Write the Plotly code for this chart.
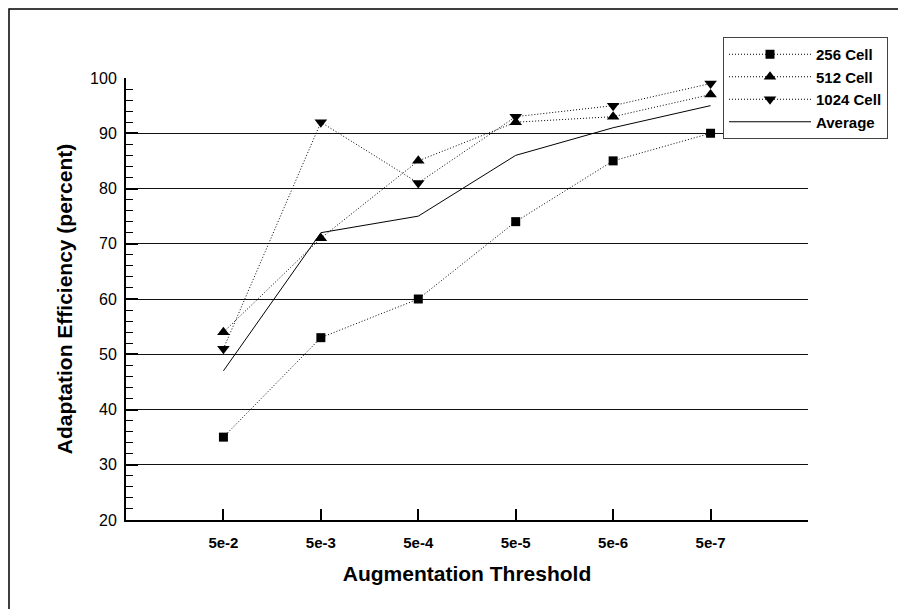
import plotly.graph_objects as go

thresholds = ["5e-2", "5e-3", "5e-4", "5e-5", "5e-6", "5e-7"]
cell_256 = [35, 53, 60, 74, 85, 90]
cell_512 = [54, 71, 85, 92, 93, 97]
cell_1024 = [51, 92, 81, 93, 95, 99]
average = [47, 72, 75, 86, 91, 95]

W, H = 906, 609
L, R, T, B = 118, 106, 70, 97
pw, ph = W - L - R, H - T - B

def px_x(x):
    return (x - L) / pw

def px_y(y):
    return (H - B - y) / ph

fig = go.Figure()
dot = dict(color="black", width=1, dash="1px,2px")
fig.add_trace(go.Scatter(x=thresholds, y=cell_256, name="<b>256 Cell</b>", mode="lines+markers",
                         line=dot, marker=dict(symbol="square", size=9, color="black")))
fig.add_trace(go.Scatter(x=thresholds, y=cell_512, name="<b>512 Cell</b>", mode="lines+markers",
                         line=dot, marker=dict(symbol="triangle-up", size=11, color="black")))
fig.add_trace(go.Scatter(x=thresholds, y=cell_1024, name="<b>1024 Cell</b>", mode="lines+markers",
                         line=dot, marker=dict(symbol="triangle-down", size=11, color="black")))
fig.add_trace(go.Scatter(x=thresholds, y=average, name="<b>Average</b>", mode="lines",
                         line=dict(color="black", width=1)))

font = "Arial, Liberation Sans, sans-serif"
fig.update_layout(
    width=W, height=H,
    margin=dict(l=L, r=R, t=T, b=B),
    plot_bgcolor="white", paper_bgcolor="white",
    font=dict(family=font, color="black"),
    showlegend=True,
    legend=dict(x=px_x(715), y=px_y(29), xanchor="left", yanchor="top",
                bgcolor="white", bordercolor="#444", borderwidth=1,
                font=dict(size=15, family=font, color="black"),
                itemwidth=82, tracegroupgap=0,
                traceorder="normal"),
    xaxis=dict(type="category", range=[-1, 6], showgrid=False, zeroline=False,
               showline=True, linecolor="black", linewidth=2,
               ticks="inside", ticklen=11, tickwidth=2, tickcolor="black",
               ticklabelstandoff=8,
               tickfont=dict(size=15, family=font, color="black"),
               tickmode="array", tickvals=thresholds,
               ticktext=["<b>%s</b>" % t for t in thresholds],
               title=dict(text="<b>Augmentation Threshold</b>", standoff=16,
                          font=dict(size=21, family=font, color="black"))),
    yaxis=dict(range=[20, 100], dtick=10, showgrid=True, gridcolor="#111", gridwidth=1,
               zeroline=False, showline=True, linecolor="black", linewidth=2,
               ticks="inside", ticklen=12, tickwidth=2, tickcolor="black",
               ticklabelstandoff=4,
               tickfont=dict(size=16, family=font, color="black"),
               minor=dict(dtick=2, ticks="inside", ticklen=7, tickwidth=1, tickcolor="black", showgrid=False),
               title=dict(text="<b>Adaptation Efficiency (percent)</b>", standoff=12,
                          font=dict(size=21, family=font, color="black"))),
    shapes=[dict(type="rect", xref="paper", yref="paper",
                 x0=px_x(1), x1=px_x(W - 1), y0=px_y(H - 1), y1=px_y(1),
                 line=dict(color="black", width=1.5), fillcolor="rgba(0,0,0,0)", layer="below")],
)

fig.write_html("out.html")
